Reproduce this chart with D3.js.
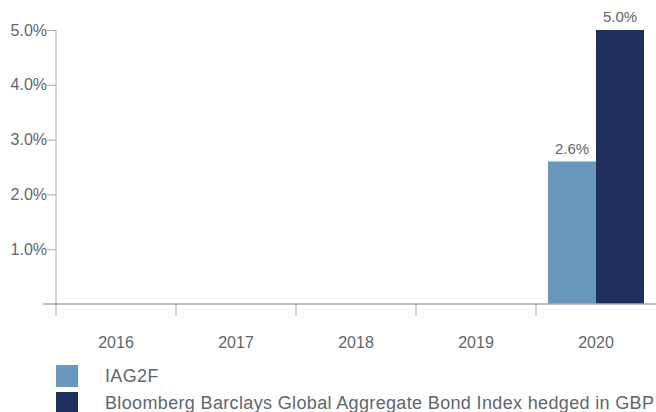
<!DOCTYPE html>
<html>
<head>
    <meta charset="utf-8">
    <title>IAG2F vs index</title>
    <script src="https://cdn.jsdelivr.net/npm/d3@7"></script>
    <style>
        body { margin: 0; background: #fff; }
        text { font-family: "Liberation Sans", Arial, sans-serif; fill: #5f666c; }
    </style>
</head>
<body>
    <script>
        var years = ['2016', '2017', '2018', '2019', '2020'];
        var fundValues = [null, null, null, null, 2.6];
        var indexValues = [null, null, null, null, 5.0];
        var seriesNames = ['IAG2F', 'Bloomberg Barclays Global Aggregate Bond Index hedged in GBP'];
        var seriesColors = ['#6897bb', '#1f2f5e'];
        var yTicks = [1, 2, 3, 4, 5];

        var width = 656, height = 412;
        var plotLeft = 56, plotRight = 656, plotTop = 30, base = 304;

        var svg = d3.select('body').append('svg')
            .attr('width', width)
            .attr('height', height);

        var x = d3.scaleBand().domain(years).range([plotLeft, plotRight]);
        var y = d3.scaleLinear().domain([0, 5]).range([base, plotTop]);
        // two bars per year, 12px gap on each side of the pair
        var inner = d3.scaleBand().domain([0, 1]).range([12, x.bandwidth() - 12]);

        var axisColor = '#a3abb1';

        // y axis
        var yAxis = svg.append('g')
            .attr('transform', 'translate(' + plotLeft + ',0)')
            .call(d3.axisLeft(y).tickValues(yTicks).tickSize(9).tickPadding(0)
                .tickFormat(function(d) { return d.toFixed(1) + '%'; }));
        yAxis.select('.domain').remove();
        yAxis.selectAll('line').attr('stroke', axisColor);
        yAxis.selectAll('text').attr('font-size', 16).attr('fill', '#5f666c')
            .style('font-family', '"Liberation Sans", Arial, sans-serif');
        svg.append('line')
            .attr('x1', plotLeft).attr('x2', plotLeft)
            .attr('y1', plotTop).attr('y2', base + 12)
            .attr('stroke', axisColor);

        // bars
        var series = [fundValues, indexValues];
        series.forEach(function(vals, s) {
            var data = years.map(function(yr, i) { return {year: yr, v: vals[i]}; })
                .filter(function(d) { return d.v != null; });
            svg.append('g').selectAll('rect')
                .data(data)
                .enter()
                .append('rect')
                .attr('x', function(d) { return x(d.year) + inner(s); })
                .attr('width', inner.bandwidth())
                .attr('y', function(d) { return y(d.v); })
                .attr('height', function(d) { return base - y(d.v); })
                .attr('fill', seriesColors[s]);
            svg.append('g').selectAll('text')
                .data(data)
                .enter()
                .append('text')
                .attr('x', function(d) { return x(d.year) + inner(s) + inner.bandwidth() / 2; })
                .attr('y', function(d) { return y(d.v) - 8; })
                .attr('text-anchor', 'middle')
                .attr('font-size', 15)
                .text(function(d) { return d.v.toFixed(1) + '%'; });
        });

        // x axis
        svg.append('line')
            .attr('x1', 43).attr('x2', plotRight)
            .attr('y1', base).attr('y2', base)
            .attr('stroke', axisColor).attr('stroke-width', 1.5);
        svg.append('g').selectAll('line')
            .data(years.slice(1))
            .enter()
            .append('line')
            .attr('x1', function(d) { return x(d); })
            .attr('x2', function(d) { return x(d); })
            .attr('y1', base).attr('y2', base + 12)
            .attr('stroke', axisColor);
        svg.append('g').selectAll('text')
            .data(years)
            .enter()
            .append('text')
            .attr('x', function(d) { return x(d) + x.bandwidth() / 2; })
            .attr('y', 348)
            .attr('text-anchor', 'middle')
            .attr('font-size', 16)
            .text(function(d) { return d; });

        // legend
        var legend = svg.append('g').selectAll('g')
            .data(seriesNames)
            .enter()
            .append('g')
            .attr('transform', function(d, i) { return 'translate(56,' + (365 + i * 27) + ')'; });
        legend.append('rect')
            .attr('width', 22).attr('height', 22)
            .attr('fill', function(d, i) { return seriesColors[i]; });
        legend.append('text')
            .attr('x', 49).attr('y', 17)
            .attr('font-size', 18)
            .attr('letter-spacing', 0.35)
            .text(function(d) { return d; });
    </script>
</body>
</html>
